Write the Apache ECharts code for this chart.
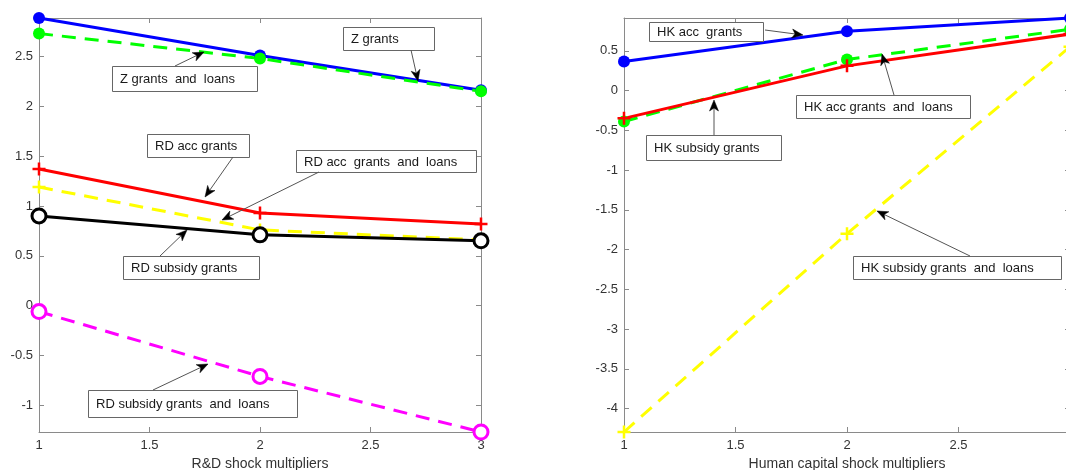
<!DOCTYPE html>
<html>
<head>
<meta charset="utf-8">
<script src="https://cdn.jsdelivr.net/npm/echarts@6/dist/echarts.min.js"></script>
<style>
html,body{margin:0;padding:0;background:#fff;}
#chart{width:1066px;height:470px;}
</style>
</head>
<body>
<div id="chart"></div>
<script>
// ---- data ----
const xVals = [1, 2, 3];
const zGrants = [2.886, 2.51, 2.16];
const zGrantsLoans = [2.73, 2.48, 2.15];
const rdAccGrants = [1.37, 0.93, 0.82];
const rdAccGrantsLoans = [1.19, 0.76, 0.66];
const rdSubsidyGrants = [0.90, 0.71, 0.65];
const rdSubsidyGrantsLoans = [-0.06, -0.71, -1.268];

const hkAccGrants = [0.365, 0.745, 0.912];
const hkAccGrantsLoans = [-0.39, 0.39, 0.77];
const hkSubsidyGrants = [-0.35, 0.31, 0.71];
const hkSubsidyGrantsLoans = [-4.295, -1.8, 0.55];

const xTicks = [1, 1.5, 2, 2.5, 3];
const leftYTicks = [-1, -0.5, 0, 0.5, 1, 1.5, 2, 2.5];
const rightYTicks = [-4, -3.5, -3, -2.5, -2, -1.5, -1, -0.5, 0, 0.5];
const leftYRange = [-1.268, 2.886];
const rightYRange = [-4.295, 0.912];
const leftXTitle = 'R&D shock multipliers';
const rightXTitle = 'Human capital shock multipliers';

const annotations = [
  {text: 'Z grants', box: [343, 27, 91, 23], tail: [411, 50], tip: [418, 81]},
  {text: 'Z grants  and  loans', box: [112, 66, 145, 25], tail: [175, 66], tip: [204, 52]},
  {text: 'RD acc grants', box: [147, 134, 102, 23], tail: [233, 157], tip: [205, 197]},
  {text: 'RD acc  grants  and  loans', box: [296, 150, 180, 22], tail: [319, 172], tip: [222, 220]},
  {text: 'RD subsidy grants', box: [123, 256, 136, 23], tail: [160, 256], tip: [187, 230]},
  {text: 'RD subsidy grants  and  loans', box: [88, 390, 209, 27], tail: [153, 390], tip: [208, 364]},
  {text: 'HK acc  grants', box: [649, 22, 114, 19], tail: [765, 30], tip: [803, 35]},
  {text: 'HK acc grants  and  loans', box: [796, 95, 174, 23], tail: [894, 95], tip: [882, 54]},
  {text: 'HK subsidy grants', box: [646, 135, 135, 25], tail: [714, 135], tip: [714, 100]},
  {text: 'HK subsidy grants  and  loans', box: [853, 256, 208, 23], tail: [970, 256], tip: [877, 211]}
];

// ---- styles ----
const FONT = '"Liberation Sans", Arial, sans-serif';
const axisColor = '#8a8a8a';
const plusPath = 'path://M0,-10L0,10M-10,0L10,0';

function pairs(ys) { return xVals.map((x, i) => [x, ys[i]]); }

function mkSeries(name, ys, gi, color, opts) {
  const s = {
    name: name, type: 'line', xAxisIndex: gi * 2, yAxisIndex: gi * 2,
    data: pairs(ys), clip: false, animation: false,
    lineStyle: {color: color, width: 3, type: opts.dash ? [14, 9] : 'solid'},
    symbol: 'circle', symbolSize: 12,
    itemStyle: {color: color},
    z: opts.z || 2
  };
  if (opts.marker === 'plus') {
    s.symbol = plusPath; s.symbolSize = 13;
    s.itemStyle = {color: color, borderColor: color, borderWidth: 2.5};
  } else if (opts.marker === 'ring') {
    s.symbol = 'circle'; s.symbolSize = 14;
    s.itemStyle = {color: '#fff', borderColor: color, borderWidth: 3};
  }
  return s;
}

function xAxisPair(gi, title) {
  const base = {
    type: 'value', gridIndex: gi, min: 1, max: 3, interval: 0.5,
    splitLine: {show: false},
    axisLine: {show: true, onZero: false, lineStyle: {color: axisColor, width: 1}},
    axisTick: {show: true, inside: true, length: 5, lineStyle: {color: axisColor}}
  };
  return [
    Object.assign({}, base, {
      position: 'bottom',
      axisLabel: {show: true, color: '#333', fontFamily: FONT, fontSize: 13, margin: 7},
      name: title, nameLocation: 'middle', nameGap: 23,
      nameTextStyle: {color: '#333', fontFamily: FONT, fontSize: 14}
    }),
    Object.assign({}, base, {position: 'top', axisLabel: {show: false}})
  ];
}

function yAxisPair(gi, range, ticks) {
  const base = {
    type: 'value', gridIndex: gi, min: range[0], max: range[1],
    splitLine: {show: false},
    axisLine: {show: true, onZero: false, lineStyle: {color: axisColor, width: 1}},
    axisTick: {show: true, inside: true, length: 5, customValues: ticks, lineStyle: {color: axisColor}}
  };
  return [
    Object.assign({}, base, {
      position: 'left',
      axisLabel: {show: true, customValues: ticks, color: '#333', fontFamily: FONT, fontSize: 13, margin: 6}
    }),
    Object.assign({}, base, {position: 'right', axisLabel: {show: false}})
  ];
}

function buildGraphics() {
  const els = [];
  annotations.forEach(a => {
    const [bx, by, bw, bh] = a.box;
    els.push({type: 'rect', z: 100, shape: {x: bx + 0.5, y: by + 0.5, width: bw, height: bh},
      style: {fill: '#fff', stroke: '#666', lineWidth: 1}});
    els.push({type: 'text', z: 101, style: {text: a.text, x: bx + 8, y: by + bh / 2 + 1,
      verticalAlign: 'middle', align: 'left', font: '13px ' + FONT, fill: '#1a1a1a'}});
    const dx = a.tip[0] - a.tail[0], dy = a.tip[1] - a.tail[1];
    const len = Math.sqrt(dx * dx + dy * dy);
    const ux = dx / len, uy = dy / len, nx = -uy, ny = ux;
    const L = 11, W = 4.5, N = 3;
    const back = [a.tip[0] - ux * (L - N), a.tip[1] - uy * (L - N)];
    els.push({type: 'line', z: 100, shape: {x1: a.tail[0], y1: a.tail[1], x2: back[0], y2: back[1]},
      style: {stroke: '#555', lineWidth: 1}});
    els.push({type: 'polygon', z: 101, shape: {points: [
      a.tip,
      [a.tip[0] - ux * L + nx * W, a.tip[1] - uy * L + ny * W],
      back,
      [a.tip[0] - ux * L - nx * W, a.tip[1] - uy * L - ny * W]
    ]}, style: {fill: '#000', stroke: '#000', lineWidth: 0.5}});
  });
  return els;
}

const chart = echarts.init(document.getElementById('chart'), null, {renderer: 'canvas'});
const option = {
  backgroundColor: '#fff',
  animation: false,
  grid: [
    {left: 39, top: 18, width: 442, bottom: 38, containLabel: false, outerBoundsMode: 'none'},
    {left: 624, top: 18, width: 446, bottom: 38, containLabel: false, outerBoundsMode: 'none'}
  ],
  xAxis: xAxisPair(0, leftXTitle).concat(xAxisPair(1, rightXTitle)),
  yAxis: yAxisPair(0, leftYRange, leftYTicks).concat(yAxisPair(1, rightYRange, rightYTicks)),
  series: [
    mkSeries('Z grants', zGrants, 0, '#0000ff', {}),
    mkSeries('Z grants and loans', zGrantsLoans, 0, '#00ff00', {dash: true}),
    mkSeries('RD acc grants', rdAccGrants, 0, '#ff0000', {marker: 'plus'}),
    mkSeries('RD acc grants and loans', rdAccGrantsLoans, 0, '#ffff00', {dash: true, marker: 'plus'}),
    mkSeries('RD subsidy grants', rdSubsidyGrants, 0, '#000000', {marker: 'ring'}),
    mkSeries('RD subsidy grants and loans', rdSubsidyGrantsLoans, 0, '#ff00ff', {dash: true, marker: 'ring'}),
    mkSeries('HK acc grants', hkAccGrants, 1, '#0000ff', {}),
    mkSeries('HK acc grants and loans', hkAccGrantsLoans, 1, '#00ff00', {dash: true}),
    mkSeries('HK subsidy grants', hkSubsidyGrants, 1, '#ff0000', {marker: 'plus'}),
    mkSeries('HK subsidy grants and loans', hkSubsidyGrantsLoans, 1, '#ffff00', {dash: true, marker: 'plus'})
  ],
  graphic: buildGraphics()
};
chart.setOption(option);
</script>
</body>
</html>
